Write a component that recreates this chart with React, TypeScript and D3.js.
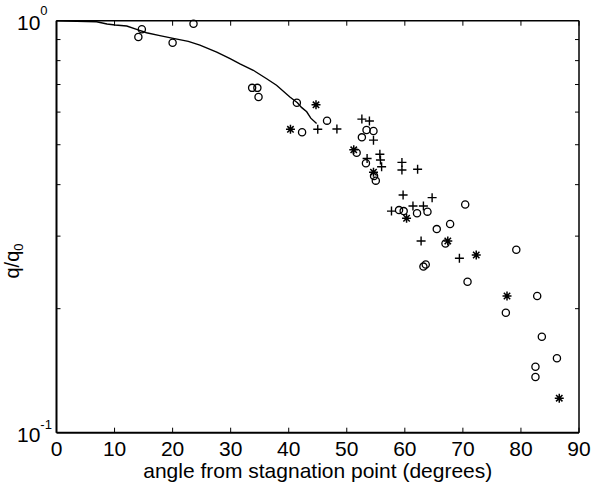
import React from "react";
import * as d3 from "d3";

// measured heat flux ratio vs angle from the stagnation point
const lineAngle = [0, 6.9, 8.7, 10.1, 12.1, 13.8, 15.5, 17.8, 20.1, 22.7, 24.7, 27.6, 29.9, 31.6, 33.9, 36.2, 37.9, 40.2, 41.5, 42.2, 43.1, 43.8, 44.8];
const lineQ = [1.0, 0.994, 0.982, 0.976, 0.971, 0.953, 0.935, 0.92, 0.906, 0.891, 0.872, 0.839, 0.809, 0.786, 0.758, 0.723, 0.697, 0.653, 0.632, 0.616, 0.601, 0.58, 0.563];

const circleAngle = [14.1, 14.7, 20.0, 23.6, 33.7, 34.6, 34.8, 41.4, 42.3, 46.6, 53.4, 54.6, 52.6, 51.7, 53.3, 54.7, 55.0, 59.0, 59.8, 62.1, 63.9, 70.4, 65.5, 67.8, 67.0, 63.2, 63.6, 79.2, 70.8, 82.8, 77.4, 83.6, 86.2, 82.5, 82.5];
const circleQ = [0.913, 0.953, 0.884, 0.983, 0.687, 0.687, 0.653, 0.632, 0.536, 0.572, 0.543, 0.54, 0.521, 0.478, 0.451, 0.42, 0.409, 0.347, 0.345, 0.341, 0.344, 0.358, 0.312, 0.321, 0.288, 0.253, 0.256, 0.278, 0.2325, 0.2147, 0.1955, 0.171, 0.1516, 0.1446, 0.1365];

const plusAngle = [45.0, 48.3, 52.6, 53.9, 54.6, 55.7, 53.5, 55.8, 56.0, 59.5, 59.5, 62.2, 59.7, 64.7, 57.7, 61.4, 63.2, 62.8, 69.4];
const plusQ = [0.545, 0.546, 0.577, 0.571, 0.513, 0.474, 0.463, 0.459, 0.442, 0.453, 0.434, 0.436, 0.3776, 0.372, 0.345, 0.355, 0.355, 0.292, 0.265];

const starAngle = [40.3, 44.7, 51.2, 54.6, 60.3, 67.4, 72.3, 77.6, 86.6];
const starQ = [0.545, 0.625, 0.486, 0.4286, 0.3316, 0.292, 0.27, 0.2147, 0.1213];

const xTicks = [0, 10, 20, 30, 40, 50, 60, 70, 80, 90];
const yMinorTicks = [0.2, 0.3, 0.4, 0.5, 0.6, 0.7, 0.8, 0.9];

const font = "'Liberation Sans', Arial, sans-serif";

function App() {
  const left = 56.5, right = 579, top = 20.7, bottom = 432.7;

  const xScale = d3.scaleLinear().domain([0, 90]).range([left, right]);
  const yScale = d3.scaleLog().domain([0.1, 1]).range([bottom, top]);

  const curve = d3
    .line<number>()
    .x((d, i) => xScale(lineAngle[i]))
    .y(d => yScale(d));

  const tick = 5;

  return (
    <svg
      width={594}
      height={486}
      style={{ position: "absolute", left: 0, top: 0, background: "#fff" }}
      fontFamily={font}
    >
      {/* curve */}
      <path d={curve(lineQ) || ""} fill="none" stroke="#000" strokeWidth={1.4} />

      {/* circles */}
      {circleAngle.map((a, i) => (
        <circle key={"c" + i} cx={xScale(a)} cy={yScale(circleQ[i])} r={3.6} fill="none" stroke="#000" strokeWidth={1.3} />
      ))}

      {/* pluses */}
      {plusAngle.map((a, i) => {
        const cx = xScale(a), cy = yScale(plusQ[i]);
        return (
          <path key={"p" + i} d={`M${cx - 4.5},${cy}H${cx + 4.5}M${cx},${cy - 4.5}V${cy + 4.5}`} stroke="#000" strokeWidth={1.4} />
        );
      })}

      {/* stars */}
      {starAngle.map((a, i) => {
        const cx = xScale(a), cy = yScale(starQ[i]);
        const s = 4.5, d = 3.2;
        return (
          <path
            key={"s" + i}
            d={`M${cx - s},${cy}H${cx + s}M${cx},${cy - s}V${cy + s}M${cx - d},${cy - d}L${cx + d},${cy + d}M${cx - d},${cy + d}L${cx + d},${cy - d}`}
            stroke="#000"
            strokeWidth={1.5}
          />
        );
      })}

      {/* box */}
      <line x1={left} x2={right} y1={top} y2={top} stroke="#000" strokeWidth={1.5} />
      <line x1={right} x2={right} y1={top} y2={bottom} stroke="#000" strokeWidth={1.5} />
      <line x1={left} x2={left} y1={top} y2={bottom} stroke="#000" strokeWidth={2} />
      <line x1={left} x2={right} y1={bottom} y2={bottom} stroke="#000" strokeWidth={2} />

      {/* x ticks */}
      {xTicks.map(t => (
        <g key={"x" + t}>
          <line x1={xScale(t)} x2={xScale(t)} y1={bottom} y2={bottom - tick} stroke="#000" strokeWidth={1} />
          <line x1={xScale(t)} x2={xScale(t)} y1={top} y2={top + tick} stroke="#000" strokeWidth={1} />
          <text x={xScale(t)} y={456} textAnchor="middle" fontSize={21}>
            {t}
          </text>
        </g>
      ))}

      {/* y ticks */}
      {yMinorTicks.map(t => (
        <g key={"y" + t}>
          <line x1={left} x2={left + 4} y1={yScale(t)} y2={yScale(t)} stroke="#000" strokeWidth={1} />
          <line x1={right} x2={right - 4} y1={yScale(t)} y2={yScale(t)} stroke="#000" strokeWidth={1} />
        </g>
      ))}
      <text x={17} y={yScale(1) + 9.5} fontSize={21}>
        10<tspan dy={-15} fontSize={13}>0</tspan>
      </text>
      <text x={17} y={yScale(0.1) + 9} fontSize={21}>
        10<tspan dy={-13} fontSize={13}>-1</tspan>
      </text>

      {/* labels */}
      <text x={(left + right) / 2} y={478} textAnchor="middle" fontSize={21}>
        angle from stagnation point (degrees)
      </text>
      <text transform={`translate(19,${261}) rotate(-90)`} textAnchor="middle" fontSize={20}>
        q/q<tspan dy={4} fontSize={13}>0</tspan>
      </text>
    </svg>
  );
}

export default App;
